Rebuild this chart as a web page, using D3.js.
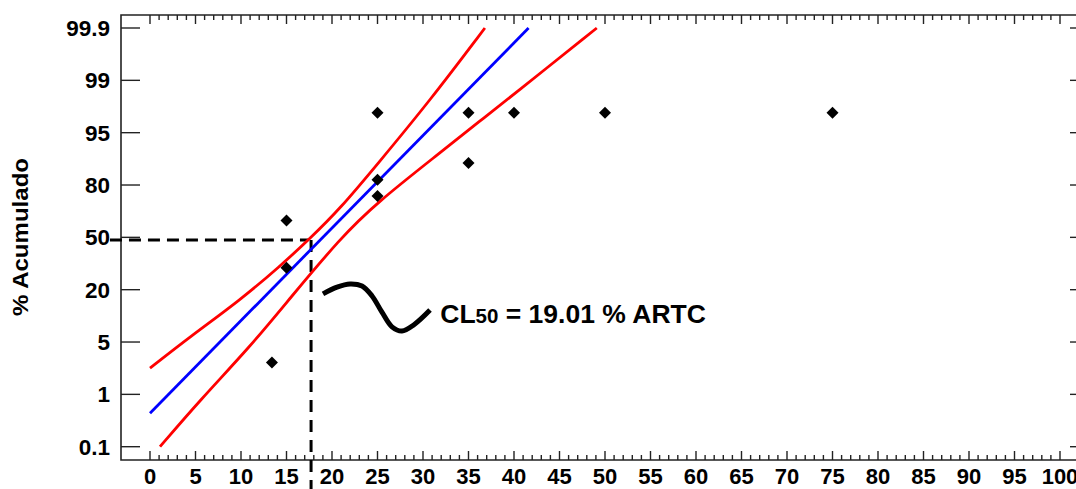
<!DOCTYPE html>
<html>
<head>
<meta charset="utf-8">
<script src="https://cdn.jsdelivr.net/npm/d3@7"></script>
<style>
  body { margin: 0; background: #fff; }
  svg { display: block; font-family: "Liberation Sans", Arial, sans-serif; font-weight: bold; }
</style>
</head>
<body>
<script>
// probability labels sit at equally spaced positions (0..8) on the y axis
var probLabels = ["0.1", "1", "5", "20", "50", "80", "95", "99", "99.9"];

// observed points: concentration (% ARTC) and position on probability axis
var obsX = [13.4, 15, 15, 25, 25, 25, 35, 35, 40, 50, 75];
var obsY = [1.61, 3.42, 4.32, 4.79, 5.10, 6.38, 5.42, 6.38, 6.38, 6.38, 6.38];

// fitted probit line
var fitX = [0, 41.6];
var fitY = [0.64, 8.0];

// upper / lower confidence bands
var upperX = [0, 4.4, 9.9, 14.3, 17.6, 20.9, 24.9, 30.8, 36.8];
var upperY = [1.50, 2.10, 2.80, 3.45, 3.98, 4.55, 5.38, 6.62, 8.0];
var lowerX = [1.1, 5.5, 11.0, 15.4, 20.9, 24.9, 31.9, 36.3, 39.9, 49.1];
var lowerY = [0, 0.89, 1.91, 2.84, 3.98, 4.66, 5.62, 6.23, 6.72, 8.0];

// CL50 annotation
var cl50 = 19.01;
var guideX = 17.7, guideY = 3.95;
var squiggleX = [19.01, 20.55, 21.98, 23.30, 24.40, 25.49, 26.59, 27.69, 29.01, 30.77];
var squiggleY = [2.92, 3.05, 3.11, 3.07, 2.88, 2.57, 2.29, 2.21, 2.33, 2.61];

var width = 1076,
  height = 489,
  frame = {left: 121, top: 15, right: 1089, bottom: 460};

var x = d3.scaleLinear().domain([0, 100]).range([150, 1060]);
var y = d3.scaleLinear().domain([0, 8]).range([446.7, 28]);

var svg = d3.select("body").append("svg")
  .attr("width", width)
  .attr("height", height);

function zip(xs, ys) { return xs.map(function(d, i) { return [d, ys[i]]; }); }

var line = d3.line()
  .x(function(d) { return x(d[0]); })
  .y(function(d) { return y(d[1]); });

// frame
svg.append("path")
  .attr("d", "M" + frame.right + "," + frame.top + "H" + frame.left + "V" + frame.bottom + "H" + frame.right)
  .attr("fill", "none")
  .attr("stroke", "#222")
  .attr("stroke-width", 1.6);

// x ticks, top and bottom, pointing inward
var xTicks = d3.range(0, 101);
var tickG = svg.append("g").attr("stroke", "#222").attr("stroke-width", 1.4);
tickG.selectAll(".xb")
  .data(xTicks)
  .enter().append("line")
  .attr("x1", function(d) { return x(d); })
  .attr("x2", function(d) { return x(d); })
  .attr("y1", frame.bottom)
  .attr("y2", function(d) { return frame.bottom - (d % 5 ? 5 : 9); });
tickG.selectAll(".xt")
  .data(xTicks)
  .enter().append("line")
  .attr("x1", function(d) { return x(d); })
  .attr("x2", function(d) { return x(d); })
  .attr("y1", frame.top)
  .attr("y2", function(d) { return frame.top + (d % 5 ? 5 : 9); });

// y ticks, left and right
tickG.selectAll(".yl")
  .data(d3.range(probLabels.length))
  .enter().append("line")
  .attr("x1", frame.left)
  .attr("x2", frame.left + 19)
  .attr("y1", function(d) { return y(d); })
  .attr("y2", function(d) { return y(d); });
tickG.selectAll(".yr")
  .data(d3.range(probLabels.length))
  .enter().append("line")
  .attr("x1", frame.right)
  .attr("x2", frame.right - 19)
  .attr("y1", function(d) { return y(d); })
  .attr("y2", function(d) { return y(d); });

// tick labels
svg.append("g").selectAll("text")
  .data(d3.range(0, 101, 5))
  .enter().append("text")
  .attr("x", function(d) { return x(d); })
  .attr("y", 484)
  .attr("text-anchor", "middle")
  .attr("font-size", 22)
  .text(function(d) { return d; });

svg.append("g").selectAll("text")
  .data(probLabels)
  .enter().append("text")
  .attr("x", 110)
  .attr("y", function(d, i) { return y(i); })
  .attr("dy", "0.36em")
  .attr("text-anchor", "end")
  .attr("font-size", 22.5)
  .text(function(d) { return d; });

svg.append("text")
  .attr("transform", "translate(28,237)rotate(-90)")
  .attr("text-anchor", "middle")
  .attr("font-size", 22)
  .attr("textLength", 158)
  .attr("lengthAdjust", "spacingAndGlyphs")
  .text("% Acumulado");

// guides
svg.append("line")
  .attr("x1", x(-4.4)).attr("x2", x(guideX) - 3)
  .attr("y1", y(guideY)).attr("y2", y(guideY))
  .attr("stroke", "#000").attr("stroke-width", 3)
  .attr("stroke-dasharray", "12,7");
svg.append("line")
  .attr("x1", x(guideX)).attr("x2", x(guideX))
  .attr("y1", y(guideY)).attr("y2", height)
  .attr("stroke", "#000").attr("stroke-width", 3)
  .attr("stroke-dasharray", "12,8");

// bands and fit
var smooth = d3.line()
  .curve(d3.curveBasis)
  .x(function(d) { return x(d[0]); })
  .y(function(d) { return y(d[1]); });

[zip(upperX, upperY), zip(lowerX, lowerY)].forEach(function(b) {
  svg.append("path")
    .attr("d", smooth(b))
    .attr("fill", "none")
    .attr("stroke", "#ff0000")
    .attr("stroke-width", 2.8);
});

svg.append("path")
  .attr("d", line(zip(fitX, fitY)))
  .attr("fill", "none")
  .attr("stroke", "#0000ff")
  .attr("stroke-width", 2.8);

// observed points
svg.append("g").selectAll("path")
  .data(zip(obsX, obsY))
  .enter().append("path")
  .attr("transform", function(d) { return "translate(" + x(d[0]) + "," + y(d[1]) + ")rotate(45)"; })
  .attr("d", d3.symbol(d3.symbolSquare, 72))
  .attr("fill", "#000");

// annotation
svg.append("path")
  .attr("d", d3.line()
    .curve(d3.curveCatmullRom)
    .x(function(d) { return x(d[0]); })
    .y(function(d) { return y(d[1]); })(zip(squiggleX, squiggleY)))
  .attr("fill", "none")
  .attr("stroke", "#000")
  .attr("stroke-width", 5);

var label = svg.append("text")
  .attr("x", x(31.9))
  .attr("y", y(2.37))
  .attr("font-size", 26.5);
label.append("tspan").text("CL");
label.append("tspan").attr("font-size", 20.5).text("50");
label.append("tspan").text(" = " + cl50.toFixed(2) + " % ARTC");
</script>
</body>
</html>
